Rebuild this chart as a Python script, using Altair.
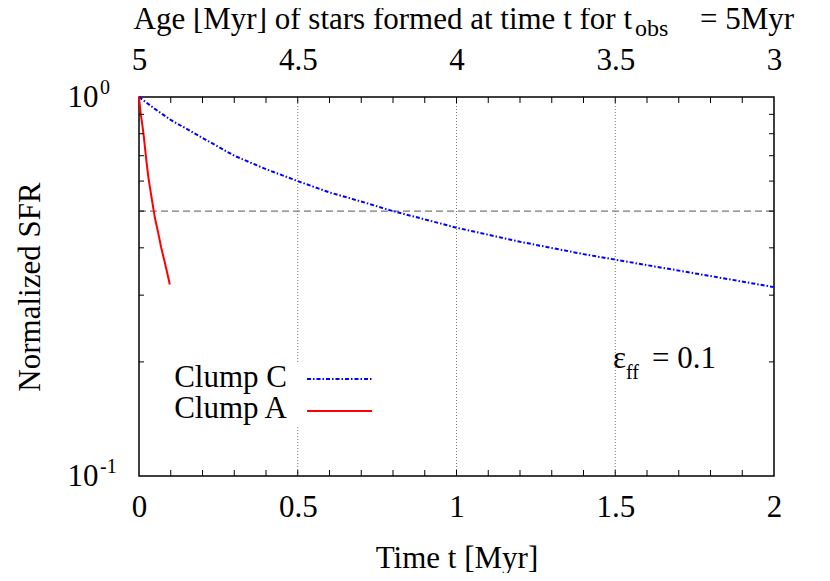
import altair as alt
import pandas as pd

FONT = "Liberation Serif"

# Clump C (blue, dash-dot)
t_c = [0.0, 0.05, 0.1, 0.2, 0.3, 0.4, 0.5, 0.6, 0.7, 0.8, 1.0, 1.2, 1.4, 1.6, 1.8, 2.0]
v_c = [1.0, 0.93, 0.87, 0.78, 0.70, 0.645, 0.60, 0.56, 0.53, 0.50, 0.452, 0.415, 0.385, 0.36, 0.337, 0.315]

# Clump A (red, solid)
t_a = [0.0, 0.005, 0.01, 0.015, 0.02, 0.025, 0.03, 0.04, 0.05, 0.06, 0.07, 0.08, 0.09, 0.097]
v_a = [1.0, 0.91, 0.85, 0.79, 0.72, 0.66, 0.61, 0.54, 0.48, 0.44, 0.40, 0.37, 0.34, 0.32]

half_t = [0.0, 2.0]
half_v = [0.5, 0.5]

x_labels = [0, 0.5, 1, 1.5, 2]
age_labels = [5, 4.5, 4, 3.5, 3]
grid_t = [0.5, 1.0, 1.5]
minor_x = [0.1, 0.2, 0.3, 0.4, 0.5, 0.6, 0.7, 0.8, 0.9, 1.0,
           1.1, 1.2, 1.3, 1.4, 1.5, 1.6, 1.7, 1.8, 1.9]
minor_y = [0.2, 0.3, 0.4, 0.5, 0.6, 0.7, 0.8, 0.9]
y_major = [1.0, 0.1]
y_exp = ["0", "-1"]

W, H = 635, 379

xs = alt.Scale(domain=[0, 2], nice=False, zero=False)
ys = alt.Scale(type="log", domain=[0.1, 1], nice=False)


def X(field="t:Q", axis=None):
    if axis is None:
        return alt.X(field, scale=xs)
    return alt.X(field, scale=xs, axis=axis)


def Y(field="v:Q", axis=None):
    if axis is None:
        return alt.Y(field, scale=ys)
    return alt.Y(field, scale=ys, axis=axis)


def txt(s, x, y, size=31, align="left", baseline="alphabetic"):
    return alt.Chart(pd.DataFrame({"s": [s]})).mark_text(
        font=FONT, fontSize=size, align=align, baseline=baseline, color="black"
    ).encode(text="s:N", x=alt.value(x), y=alt.value(y))


half_df = pd.DataFrame({"t": half_t, "v": half_v})
base = alt.Chart(half_df).mark_line(color="#555555", strokeWidth=1, strokeDash=[7, 4]).encode(
    x=X(axis=alt.Axis(values=x_labels, format="~g", labelPadding=16, labelFlush=False,
                      title="Time t [Myr]", titlePadding=21)),
    y=Y(axis=alt.Axis(values=[0.1, 1], labelExpr="'10'", labelPadding=41,
                      labelBaseline="middle", labelFlush=False,
                      title="Normalized SFR", titlePadding=21)),
)

grid = alt.Chart(pd.DataFrame({"t": grid_t})).mark_rule(
    color="#777777", strokeWidth=1, strokeDash=[1, 2]
).encode(x=X())

white_box = alt.Chart(pd.DataFrame({"a": [0]})).mark_rect(color="white").encode(
    x=alt.value(20), x2=alt.value(240), y=alt.value(266), y2=alt.value(330)
)

curve_c = alt.Chart(pd.DataFrame({"t": t_c, "v": v_c})).mark_line(
    color="#0000ff", strokeWidth=2, strokeDash=[4, 2, 1.5, 2]
).encode(x=X(), y=Y())

curve_a = alt.Chart(pd.DataFrame({"t": t_a, "v": v_a})).mark_line(
    color="#ff0000", strokeWidth=2
).encode(x=X(), y=Y())

mx = pd.DataFrame({"t": minor_x})
ticks_bottom = alt.Chart(mx).mark_rule(color="black", strokeWidth=1).encode(
    x=X(), y=alt.value(H), y2=alt.value(H - 6))
ticks_top = alt.Chart(mx).mark_rule(color="black", strokeWidth=1).encode(
    x=X(), y=alt.value(0), y2=alt.value(6))
my = pd.DataFrame({"v": minor_y})
ticks_left = alt.Chart(my).mark_rule(color="black", strokeWidth=1).encode(
    y=Y(), x=alt.value(0), x2=alt.value(5))
ticks_right = alt.Chart(my).mark_rule(color="black", strokeWidth=1).encode(
    y=Y(), x=alt.value(W), x2=alt.value(W - 5))

sup = alt.Chart(pd.DataFrame({"v": y_major, "e": y_exp})).mark_text(
    font=FONT, fontSize=20, align="left", baseline="middle", dy=-9, color="black"
).encode(y=Y(), x=alt.value(-39), text="e:N")

legend_lines = alt.Chart(pd.DataFrame({"a": [0]})).mark_rule(
    color="#0000ff", strokeWidth=2, strokeDash=[4, 2, 1.5, 2]
).encode(x=alt.value(168), x2=alt.value(233), y=alt.value(282))
legend_line_a = alt.Chart(pd.DataFrame({"a": [0]})).mark_rule(
    color="#ff0000", strokeWidth=2
).encode(x=alt.value(168), x2=alt.value(233), y=alt.value(314))

texts = [
    txt("Clump C", 148, 290, align="right"),
    txt("Clump A", 148, 321, align="right"),
    txt("ε", 474, 271),
    txt("ff", 487, 282, size=20),
    txt("= 0.1", 513, 271),
    txt("Age [Myr] of stars formed at time t for t", 493, -68, size=31, align="right"),
    txt("obs", 496, -61, size=24),
    txt("= 5Myr", 561, -68, size=31),
]

inner = alt.layer(base, grid, white_box, curve_c, curve_a,
                  ticks_bottom, ticks_top, ticks_left, ticks_right,
                  sup, legend_lines, legend_line_a, *texts)

top = alt.Chart(pd.DataFrame({"age": age_labels})).mark_rule(opacity=0).encode(
    x=alt.X("age:Q", scale=alt.Scale(domain=[5, 3], nice=False, zero=False),
            axis=alt.Axis(orient="top", values=age_labels, format="~g",
                          labelPadding=21, labelFlush=False, title=None))
)

chart = alt.layer(inner, top).resolve_scale(x="independent").properties(
    width=W, height=H,
    background="white",
    autosize=alt.AutoSizeParams(type="none"),
    padding={"left": 131, "top": 89, "right": 48, "bottom": 97},
).configure_view(stroke="black", strokeWidth=1.5).configure_axis(
    domain=False, ticks=False, grid=False,
    labelFont=FONT, labelFontSize=31, labelColor="black",
    titleFont=FONT, titleFontSize=31, titleFontWeight="normal", titleColor="black",
)

chart.save("out.html", embed_options={"renderer": "svg", "actions": False})
